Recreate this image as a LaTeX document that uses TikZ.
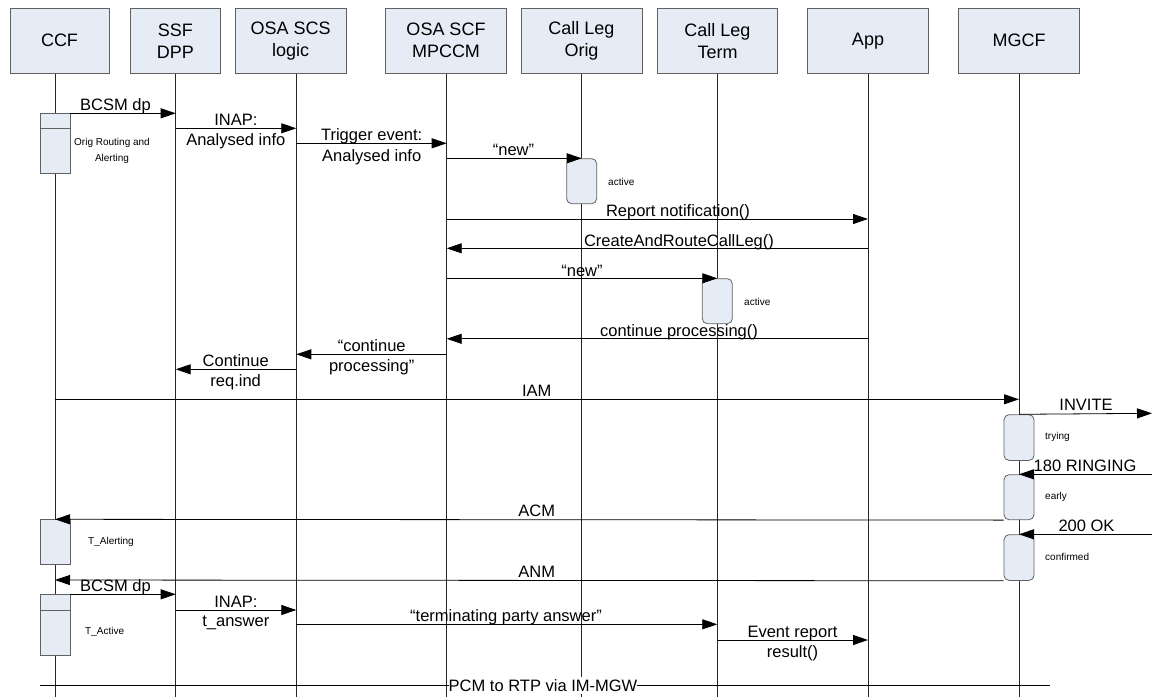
\documentclass[tikz,border=0pt]{standalone}
\usepackage{fontspec}
\setmainfont{Liberation Sans}
\usetikzlibrary{arrows.meta}
\definecolor{boxfill}{RGB}{230,236,246}
\definecolor{boxline}{RGB}{96,96,96}

\begin{document}
\begin{tikzpicture}[x=1pt,y=-1pt,
  head/.style={draw=boxline, line width=0.8pt, fill=boxfill, align=center, inner sep=0pt,
               minimum height=65.5pt, font=\fontsize{18}{22}\selectfont},
  life/.style={draw=black!85, line width=0.8pt},
  actsq/.style={draw=boxline, line width=0.8pt, fill=boxfill, minimum width=30pt, inner sep=0pt, anchor=north},
  actrd/.style={actsq, rounded corners=5pt},
  msg/.style={draw=black, line width=0.8pt, -{Triangle[length=15pt,width=10pt]}},
  lbl/.style={font=\fontsize{16.5}{19}\selectfont, inner sep=0pt, anchor=base},
  note/.style={font=\fontsize{10}{16}\selectfont, inner sep=0pt, align=center},
]
% canvas
\fill[white] (0,0) rectangle (1152,697);
\useasboundingbox (0,0) rectangle (1152,697);

% participants
\node[head, minimum width=99pt]    (ccf)  at (59.5,40.75)  {CCF};
\node[head, minimum width=90pt]    (ssf)  at (175.4,40.75) {SSF\\DPP};
\node[head, minimum width=111pt]   (scs)  at (290.6,40.75) {OSA SCS\\logic};
\node[head, minimum width=120.5pt] (scf)  at (446,40.75)   {OSA SCF\\MPCCM};
\node[head, minimum width=121pt]   (orig) at (581.5,40.75) {Call Leg\\Orig};
\node[head, minimum width=120pt]   (term) at (717.5,40.75) {Call Leg\\Term};
\node[head, minimum width=120.5pt] (app)  at (868,40.75)   {App};
\node[head, minimum width=120.5pt] (mgcf) at (1019,40.75)  {MGCF};

% lifelines
\foreach \n/\x in {ccf/55, ssf/175.7, scs/296.3, scf/446.7, orig/581.7, term/717.3, app/868, mgcf/1019} {
  \coordinate (L\n) at (\x,73.5);
  \coordinate (E\n) at (\x,697);
  \draw[life] (L\n) -- (E\n);
}

% activation boxes on CCF
\node[actsq, minimum height=60pt]   (a1) at (55,113.3) {};
\draw[boxline, line width=0.8pt] (a1.west |- 0,128.3) -- (a1.east |- 0,128.3);
\node[actsq, minimum height=45pt]   (a2) at (55,519.3) {};
\node[actsq, minimum height=60.7pt] (a3) at (55,594.3) {};
\draw[boxline, line width=0.8pt] (a3.west |- 0,610) -- (a3.east |- 0,610);

% state boxes
\node[actrd, minimum height=45pt]   (r1) at (581.7,158.3) {};
\node[actrd, minimum height=45pt]   (r2) at (717.3,278.3) {};
\node[actrd, minimum height=45.7pt] (r3) at (1019,414.3)  {};
\node[actrd, minimum height=45pt]   (r4) at (1019,474.3)  {};
\node[actrd, minimum height=45.7pt] (r5) at (1019,534.3)  {};

% state names
\node[note] (n1) at (112,151) {Orig Routing and\\Alerting};
\node[note, anchor=west] (n2) at (608,181.7)  {active};
\node[note, anchor=west] (n3) at (744,301.7)  {active};
\node[note, anchor=west] (n4) at (1045,437.3) {trying};
\node[note, anchor=west] (n5) at (1045,497.3) {early};
\node[note, anchor=west] (n6) at (1045,556.5) {confirmed};
\node[note, anchor=west] (n7) at (88,542.3)   {T\_Alerting};
\node[note, anchor=west] (n8) at (85,632.3)   {T\_Active};

% outer ends of the MGCF-side signalling
\coordinate (x1) at (1152,413.3);
\coordinate (x2) at (1152,474.3);
\coordinate (x3) at (1152,534.3);

% messages
\draw[msg] (a1.east |- 0,113.3) -- (Lssf |- 0,113.3);
\node[lbl] (t1) at (115.5,110.5) {BCSM dp};

\draw[msg] (Lssf |- 0,128.3) -- (Lscs |- 0,128.3);
\node[lbl] (t2a) at (235.8,125.8) {INAP:};
\node[lbl] (t2b) at (235.8,145.8) {Analysed info};

\draw[msg] (Lscs |- 0,143.3) -- (Lscf |- 0,143.3);
\node[lbl] (t3a) at (371.7,140.8) {Trigger event:};
\node[lbl] (t3b) at (371.7,161)   {Analysed info};

\draw[msg] (Lscf |- 0,158.3) -- (r1.north);
\node[lbl] (t4) at (513.5,155.8) {“new”};

\draw[msg] (Lscf |- 0,219) -- (Lapp |- 0,219);
\node[lbl] (t5) at (678,216.5) {Report notification()};

\draw[msg] (Lapp |- 0,248.3) -- (Lscf |- 0,248.3);
\node[lbl] (t6) at (679,246) {CreateAndRouteCallLeg()};

\draw[msg] (Lscf |- 0,278.3) -- (r2.north);
\node[lbl] (t7) at (582,276) {“new”};

\draw[msg] (Lapp |- 0,338.8) -- (Lscf |- 0,338.8);
\node[lbl] (t8) at (679,336.3) {continue processing()};

\draw[msg] (Lscf |- 0,354.3) -- (Lscs |- 0,354.3);
\node[lbl] (t9a) at (371.7,351.8) {“continue};
\node[lbl] (t9b) at (371.7,371)   {processing”};

\draw[msg] (Lscs |- 0,369.3) -- (Lssf |- 0,369.3);
\node[lbl] (t10a) at (235.7,366.8) {Continue};
\node[lbl] (t10b) at (235.7,386)   {req.ind};

\draw[msg] (Lccf |- 0,399.3) -- (Lmgcf |- 0,399.3);
\node[lbl] (t11) at (536.7,396.5) {IAM};

\draw[msg] (r3.north) -- (x1);
\node[lbl] (t12) at (1086,410.5) {INVITE};

\draw[msg] (x2) -- (r4.north);
\node[lbl] (t13) at (1085,471.7) {180 RINGING};

\draw[msg] (r4.south west) -- (Lccf |- 0,519.3);
\node[lbl] (t14) at (536.7,516.7) {ACM};

\draw[msg] (x3) -- (r5.north);
\node[lbl] (t15) at (1086.5,531.7) {200 OK};

\draw[msg] (r5.south west) -- (Lccf |- 0,580);
\node[lbl] (t16) at (536.7,577) {ANM};

\draw[msg] (a3.east |- 0,594.3) -- (Lssf |- 0,594.3);
\node[lbl] (t17) at (115.5,591.8) {BCSM dp};

\draw[msg] (Lssf |- 0,610) -- (Lscs |- 0,610);
\node[lbl] (t18a) at (235.8,607.3) {INAP:};
\node[lbl] (t18b) at (235.8,626.8) {t\_answer};

\draw[msg] (Lscs |- 0,624.3) -- (Lterm |- 0,624.3);
\node[lbl] (t19) at (506,621.8) {“terminating party answer”};

\draw[msg] (Lterm |- 0,640) -- (Lapp |- 0,640);
\node[lbl] (t20a) at (792.5,637.5) {Event report};
\node[lbl] (t20b) at (792.5,657)   {result()};

% bearer path
\coordinate (pL) at (40,685.5);
\coordinate (pR) at (1050,685.5);
\draw[line width=1.2pt] (pL) -- (pR);
\node[lbl, anchor=center, fill=white, inner xsep=0pt, inner ysep=2pt] (pcm) at (543,685.5) {PCM to RTP via IM-MGW};
\end{tikzpicture}
\end{document}
